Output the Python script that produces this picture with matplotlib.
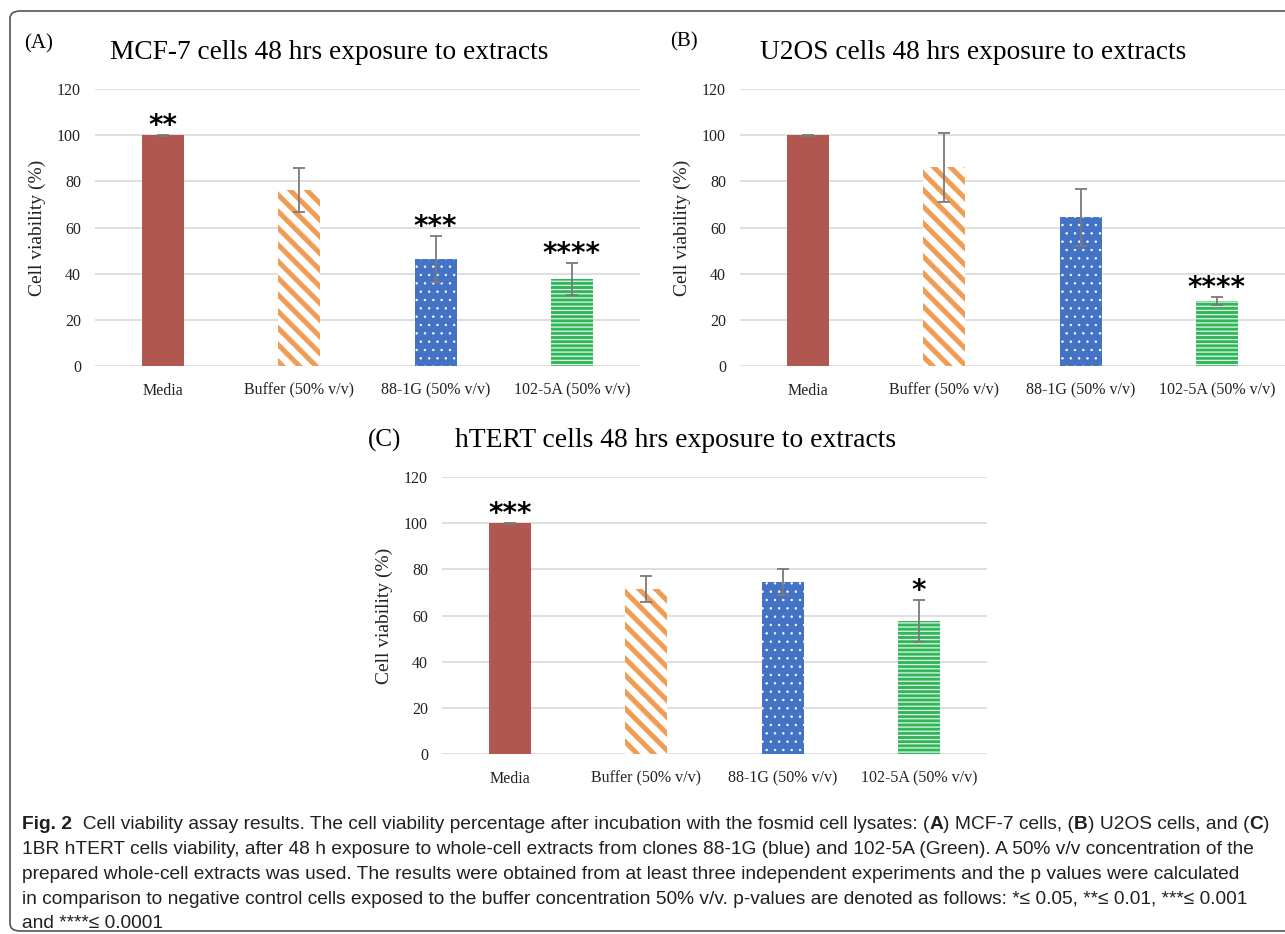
import matplotlib
matplotlib.use('Agg')
import matplotlib.pyplot as plt
from matplotlib.patches import FancyBboxPatch

# ---------------- data ----------------
categories = ['Media', 'Buffer (50% v/v)', '88-1G (50% v/v)', '102-5A (50% v/v)']

mcf7_values = [100, 76.3, 46.2, 37.7]
mcf7_errors = [0.15, 9.5, 10.0, 7.0]
mcf7_stars = ['**', '', '***', '****']

u2os_values = [100, 86.0, 64.5, 28.0]
u2os_errors = [0.15, 15.0, 12.3, 1.7]
u2os_stars = ['', '', '', '****']

htert_values = [100, 71.5, 74.5, 57.5]
htert_errors = [0.15, 5.7, 5.5, 9.0]
htert_stars = ['***', '', '', '*']

panel_letters = ['(A)', '(B)', '(C)']
panel_titles = ['MCF-7 cells 48 hrs exposure to extracts',
                'U2OS cells 48 hrs exposure to extracts',
                'hTERT cells 48 hrs exposure to extracts']
y_ticks = [0, 20, 40, 60, 80, 100, 120]
y_label = 'Cell viability (%)'

caption_lines = [
    [('Fig. 2', True), ('  Cell viability assay results. The cell viability percentage after incubation with the fosmid cell lysates: (', False),
     ('A', True), (') MCF-7 cells, (', False), ('B', True), (') U2OS cells, and (', False), ('C', True), (')', False)],
    [('1BR hTERT cells viability, after 48 h exposure to whole-cell extracts from clones 88-1G (blue) and 102-5A (Green). A 50% v/v concentration of the', False)],
    [('prepared whole-cell extracts was used. The results were obtained from at least three independent experiments and the p values were calculated', False)],
    [('in comparison to negative control cells exposed to the buffer concentration 50% v/v. p-values are denoted as follows: *\u2264 0.05, **\u2264 0.01, ***\u2264 0.001', False)],
    [('and ****\u2264 0.0001', False)],
]

# ---------------- styles ----------------
W, H = 1285, 934
fig = plt.figure(figsize=(W / 100, H / 100), dpi=100)

SERIF = ['Liberation Serif', 'DejaVu Serif']
CAPFONT = ['Liberation Sans Narrow', 'Liberation Sans', 'DejaVu Sans']

bar_styles = [
    dict(facecolor='#b0584f', edgecolor='#b0584f', hatch=None, hlw=1.0),
    dict(facecolor='white', edgecolor='#f09c55', hatch='\\\\', hlw=3.6),
    dict(facecolor='#4472c4', edgecolor='white', hatch='..', hlw=0.5),
    dict(facecolor='#30b75a', edgecolor='#e6f6ea', hatch='----', hlw=0.9),
]


def fx(px):
    return px / W


def fy(py):
    return 1 - py / H


def panel(rect_px, values, errors, stars):
    x0, ytop, x1, ybot = rect_px
    ax = fig.add_axes([fx(x0), fy(ybot), (x1 - x0) / W, (ybot - ytop) / H])
    xs = list(range(len(categories)))
    for i, (v, st) in enumerate(zip(values, bar_styles)):
        if st['hatch'] is not None:
            matplotlib.rcParams['hatch.linewidth'] = st['hlw']
        bc = ax.bar(xs[i], v, width=0.31, color=st['facecolor'], edgecolor=st['edgecolor'],
                    hatch=st['hatch'], linewidth=0, zorder=2)
        for p in bc.patches:
            if hasattr(p, 'set_hatch_linewidth'):
                p.set_hatch_linewidth(st['hlw'])
    ax.errorbar(xs, values, yerr=errors, fmt='none', ecolor='#7a7a7a', elinewidth=1.3,
                capsize=4.5, capthick=1.3, zorder=3)
    for x, v, e, s in zip(xs, values, errors, stars):
        if s:
            ax.text(x, v + e + 4.0, s, ha='center', va='center', fontsize=20,
                    family='DejaVu Sans', fontweight='bold', color='black', zorder=4)
    ax.set_xlim(-0.5, 3.5)
    ax.set_ylim(0, 120)
    ax.set_yticks(y_ticks)
    ax.set_xticks(xs)
    ax.set_xticklabels(categories)
    for sp in ax.spines.values():
        sp.set_visible(False)
    ax.grid(axis='y', color='#d9d9d9', linewidth=1.2, zorder=0)
    ax.set_axisbelow(True)
    ax.tick_params(axis='both', length=0, labelsize=11.5, colors='#222222')
    ax.tick_params(axis='x', pad=12)
    ax.tick_params(axis='y', pad=10)
    for lab in ax.get_xticklabels() + ax.get_yticklabels():
        lab.set_family(SERIF)
    ax.set_ylabel(y_label, family=SERIF, fontsize=14, color='#222222', va='center')
    ax.yaxis.set_label_coords(-0.106, 0.5)
    return ax


panel((95, 89, 640, 366), mcf7_values, mcf7_errors, mcf7_stars)
panel((740, 89, 1285, 366), u2os_values, u2os_errors, u2os_stars)
panel((442, 477, 987, 754), htert_values, htert_errors, htert_stars)

# panel letters and titles
fig.text(fx(24), fy(48), panel_letters[0], family=SERIF, fontsize=15, va='baseline', ha='left')
fig.text(fx(110), fy(59), panel_titles[0], family=SERIF, fontsize=19.7, va='baseline', ha='left')
fig.text(fx(670), fy(46), panel_letters[1], family=SERIF, fontsize=15, va='baseline', ha='left')
fig.text(fx(760), fy(59), panel_titles[1], family=SERIF, fontsize=19.7, va='baseline', ha='left')
fig.text(fx(368), fy(447), panel_letters[2], family=SERIF, fontsize=18, va='baseline', ha='left')
fig.text(fx(455), fy(447), panel_titles[2], family=SERIF, fontsize=19.9, va='baseline', ha='left')

# caption with mixed bold
renderer = fig.canvas.get_renderer()
line_base = [829, 854, 879, 904, 928]
for segs, yb in zip(caption_lines, line_base):
    x = 22
    for txt, bold in segs:
        t = fig.text(fx(x), fy(yb), txt, family=CAPFONT, fontsize=13.75,
                     fontweight='bold' if bold else 'normal', color='#231f20',
                     va='baseline', ha='left')
        x += t.get_window_extent(renderer).width

# rounded border
border = FancyBboxPatch((fx(10), fy(931)), fx(1400), (931 - 11) / H,
                        boxstyle='round,pad=0,rounding_size=0.008',
                        transform=fig.transFigure, facecolor='none', edgecolor='#555555',
                        linewidth=1.2, clip_on=False)
fig.patches.append(border)

fig.savefig('out.png', dpi=100)
